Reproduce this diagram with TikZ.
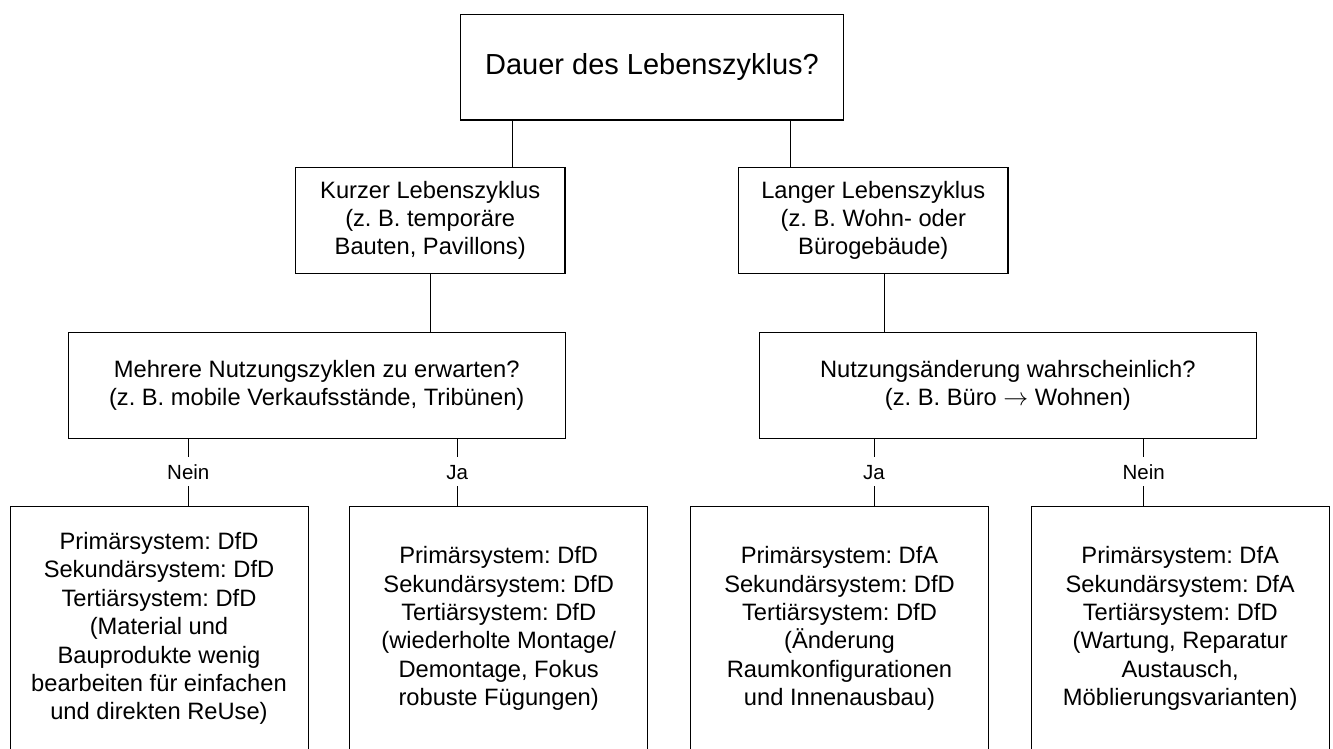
\documentclass[tikz,border=0pt]{standalone}
\usepackage{fontspec}
\setmainfont{Liberation Sans}
\usepackage{tikz}
\usetikzlibrary{positioning,calc}
\definecolor{ink}{HTML}{000000}
\frenchspacing

\begin{document}
\begin{tikzpicture}[
  x=1pt,y=-1pt,
  every node/.style={font=\fontsize{23.7}{28.4}\selectfont,align=center,text=ink},
  kopf/.style={rectangle,draw=ink,line width=1.4pt,minimum width=382.6pt,minimum height=105.7pt,inner sep=0pt,font=\fontsize{29}{34}\selectfont},
  zweig/.style={rectangle,draw=ink,line width=1.4pt,minimum width=269.7pt,minimum height=105.8pt,inner sep=0pt},
  frage/.style={rectangle,draw=ink,line width=1pt,minimum width=496.8pt,minimum height=105.7pt,inner sep=0pt},
  blatt/.style={rectangle,draw=ink,line width=1pt,minimum width=298pt,minimum height=244.7pt,inner sep=0pt},
  antwort/.style={inner sep=0pt,minimum height=28.4pt,text height=14.7pt,text depth=0pt,font=\fontsize{20.5}{24}\selectfont},
  verb/.style={line width=1pt,color=ink}
]
\useasboundingbox (0,0) rectangle (1333,749);

% Ebene 1 und 2
\node[kopf] (dauer) at (652,67.2) {Dauer des Lebenszyklus?};
\node[zweig] (kurz) at (430.2,220.4) {Kurzer Lebenszyklus\\(z. B. temporäre\\Bauten, Pavillons)};
\node[zweig] (lang) at (873.3,220.4) {Langer Lebenszyklus\\(z. B. Wohn- oder\\Bürogebäude)};

% Ebene 3
\node[frage] (mehr) at (316.7,385.2) {Mehrere Nutzungszyklen zu erwarten?\\(z. B. mobile Verkaufsstände, Tribünen)};
\node[frage] (nutz) at (1007.8,385.2) {Nutzungsänderung wahrscheinlich?\\(z. B. Büro $\rightarrow$ Wohnen)};

% Antworten
\node[antwort] (neina) at (188.3,471.7) {Nein};
\node[antwort] (jaa) at (457.3,471.7) {Ja};
\node[antwort] (jab) at (874,471.7) {Ja};
\node[antwort] (neinb) at (1143.7,471.7) {Nein};

% Ergebnisse
\node[blatt] (blatta) at (159,628.65) {Primärsystem: DfD\\Sekundärsystem: DfD\\Tertiärsystem: DfD\\(Material und\\Bauprodukte wenig\\bearbeiten für einfachen\\und direkten ReUse)};
\node[blatt] (blattb) at (498.7,628.65) {Primärsystem: DfD\\Sekundärsystem: DfD\\Tertiärsystem: DfD\\(wiederholte Montage/\\Demontage, Fokus\\robuste Fügungen)};
\node[blatt] (blattc) at (839.5,628.65) {Primärsystem: DfA\\Sekundärsystem: DfD\\Tertiärsystem: DfD\\(Änderung\\Raumkonfigurationen\\und Innenausbau)};
\node[blatt] (blattd) at (1180.2,628.65) {Primärsystem: DfA\\Sekundärsystem: DfA\\Tertiärsystem: DfD\\(Wartung, Reparatur\\Austausch,\\Möblierungsvarianten)};

% Verbindungen
\draw[verb] ([xshift=82.7pt]kurz.north) -- ([xshift=82.7pt]kurz.north |- dauer.south);
\draw[verb] ([xshift=-82.7pt]lang.north) -- ([xshift=-82.7pt]lang.north |- dauer.south);
\draw[verb] (kurz.south) -- (kurz.south |- mehr.north);
\draw[verb] ([xshift=10.7pt]lang.south) -- ([xshift=10.7pt]lang.south |- nutz.north);
\draw[verb] (neina |- mehr.south) -- (neina) -- (neina |- blatta.north);
\draw[verb] (jaa |- mehr.south) -- (jaa) -- (jaa |- blattb.north);
\draw[verb] (jab |- nutz.south) -- (jab) -- (jab |- blattc.north);
\draw[verb] (neinb |- nutz.south) -- (neinb) -- (neinb |- blattd.north);
\end{tikzpicture}
\end{document}
